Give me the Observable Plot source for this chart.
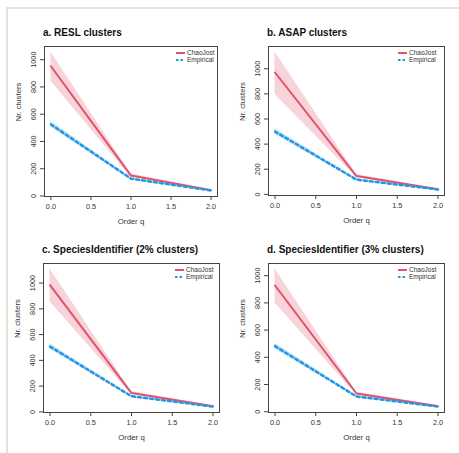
<!DOCTYPE html>
<html><head><meta charset="utf-8">
<script src="https://cdn.jsdelivr.net/npm/d3@7"></script>
<script src="https://cdn.jsdelivr.net/npm/@observablehq/plot@0.6"></script>
<style>
body{margin:0;background:#fff;font-family:"Liberation Sans",Arial,sans-serif;}
#wrap{position:relative;width:459px;height:453px;overflow:hidden;background:#fff;}
.frame{position:absolute;left:6px;top:7px;right:-4px;bottom:-4px;border-top:2px solid #e4e4dc;border-left:2px solid #e4e4dc;}
.panel{position:absolute;}
.title{position:absolute;font-weight:bold;font-size:10px;white-space:nowrap;color:#111;line-height:12px;}
.lrow{position:absolute;white-space:nowrap;line-height:7px;font-size:6.5px;color:#333;}
.lrow svg{position:absolute;}
</style>
</head><body>
<div id="wrap"><div class="frame"></div></div>
<script>
// ---- data ----
const orders = [0, 1, 2];
const xTicks = [0, 0.5, 1, 1.5, 2];
const yTicks = [0, 200, 400, 600, 800, 1000];
const panelTitles = ["a. RESL clusters", "b. ASAP clusters", "c. SpeciesIdentifier (2% clusters)", "d. SpeciesIdentifier (3% clusters)"];
const seriesNames = ["ChaoJost", "Empirical"];
const xLabel = "Order q";
const yLabel = "Nr. clusters";

const chaoEst = [[952, 150, 43], [970, 146, 40], [984, 146, 44], [928, 134, 40]];
const chaoLow = [[841, 138, 38], [795, 134, 35], [855, 134, 39], [800, 123, 35]];
const chaoHigh = [[1056, 162, 48], [1133, 158, 45], [1109, 158, 49], [1049, 145, 45]];
const empEst = [[525, 127, 40], [500, 117, 39], [507, 121, 41], [482, 112, 38]];
const empLow = [[505, 120, 37], [476, 110, 36], [486, 114, 38], [462, 105, 35]];
const empHigh = [[548, 134, 43], [524, 124, 42], [528, 128, 44], [503, 119, 41]];

// ---- layout / style ----
const red = "#DF536B", blue = "#2297E6";
const geom = [
  {left: 0, top: 0, w: 229, h: 226, ml: 44, mr: 12, mt: 46, mb: 30, legX: 187},
  {left: 229, top: 0, w: 230, h: 226, ml: 39, mr: 15, mt: 46, mb: 31, legX: 409},
  {left: 0, top: 226, w: 229, h: 227, ml: 43, mr: 10, mt: 37, mb: 41, legX: 186},
  {left: 229, top: 226, w: 230, h: 227, ml: 39, mr: 15, mt: 37, mb: 41, legX: 409}
];

const wrap = document.getElementById("wrap");
const xExt = d3.extent(orders), xPad = (xExt[1] - xExt[0]) * 0.04;

geom.forEach((g, i) => {
  const rows = orders.map((q, j) => ({
    q, chao: chaoEst[i][j], chaoLo: chaoLow[i][j], chaoHi: chaoHigh[i][j],
    emp: empEst[i][j], empLo: empLow[i][j], empHi: empHigh[i][j]
  }));
  const lo = d3.min([...chaoLow[i], ...empLow[i]]);
  const hi = d3.max([...chaoHigh[i], ...empHigh[i]]);
  const pad = (hi - lo) * 0.04;
  const chart = Plot.plot({
    width: g.w, height: g.h,
    marginLeft: g.ml, marginRight: g.mr, marginTop: g.mt, marginBottom: g.mb,
    style: {fontFamily: "Liberation Sans, Arial, sans-serif", fontSize: "7.3px", color: "#333", background: "transparent", overflow: "visible"},
    x: {domain: [xExt[0] - xPad, xExt[1] + xPad]},
    y: {domain: [lo - pad, hi + pad]},
    marks: [
      Plot.areaY(rows, {x: "q", y1: "chaoLo", y2: "chaoHi", fill: red, fillOpacity: 0.25}),
      Plot.areaY(rows, {x: "q", y1: "empLo", y2: "empHi", fill: blue, fillOpacity: 0.25}),
      Plot.lineY(rows, {x: "q", y: "chao", stroke: red, strokeWidth: 2}),
      Plot.lineY(rows, {x: "q", y: "emp", stroke: blue, strokeWidth: 2.5, strokeDasharray: "3,3"}),
      Plot.frame({stroke: "#444", strokeWidth: 1}),
      Plot.axisX({ticks: xTicks, tickFormat: d => d.toFixed(1), tickSize: 4, tickPadding: 3, label: null, stroke: "#444"}),
      Plot.axisY({ticks: yTicks, tickFormat: d => String(d), tickRotate: -90, tickSize: 4, tickPadding: 5, label: null, stroke: "#444"}),
      Plot.text([xLabel], {frameAnchor: "bottom", dy: 27, text: d => d, fontSize: 7.8, fill: "#333"}),
      Plot.text([yLabel], {frameAnchor: "left", dx: -26, rotate: -90, text: d => d, fontSize: 7.8, fill: "#333"})
    ]
  });
  const div = document.createElement("div");
  div.className = "panel";
  div.style.left = g.left + "px";
  div.style.top = g.top + "px";
  div.appendChild(chart);
  wrap.appendChild(div);

  const t = document.createElement("div");
  t.className = "title";
  t.textContent = panelTitles[i];
  t.style.left = (g.left + g.ml - 1) + "px";
  t.style.top = (g.top + g.mt - 19) + "px";
  wrap.appendChild(t);

  seriesNames.forEach((name, k) => {
    const r = document.createElement("div");
    r.className = "lrow";
    r.style.left = g.legX + "px";
    r.style.top = (g.top + g.mt + 3 + k * 7.3) + "px";
    r.textContent = name;
    const sw = d3.create("svg").attr("width", 10).attr("height", 4)
      .style("left", "-11px").style("top", "1.5px");
    sw.append("line").attr("x1", 0).attr("x2", 9).attr("y1", 2).attr("y2", 2)
      .attr("stroke", k === 0 ? red : blue).attr("stroke-width", 2)
      .attr("stroke-dasharray", k === 0 ? null : "2.5,2");
    r.appendChild(sw.node());
    wrap.appendChild(r);
  });
});
</script>
</body></html>
